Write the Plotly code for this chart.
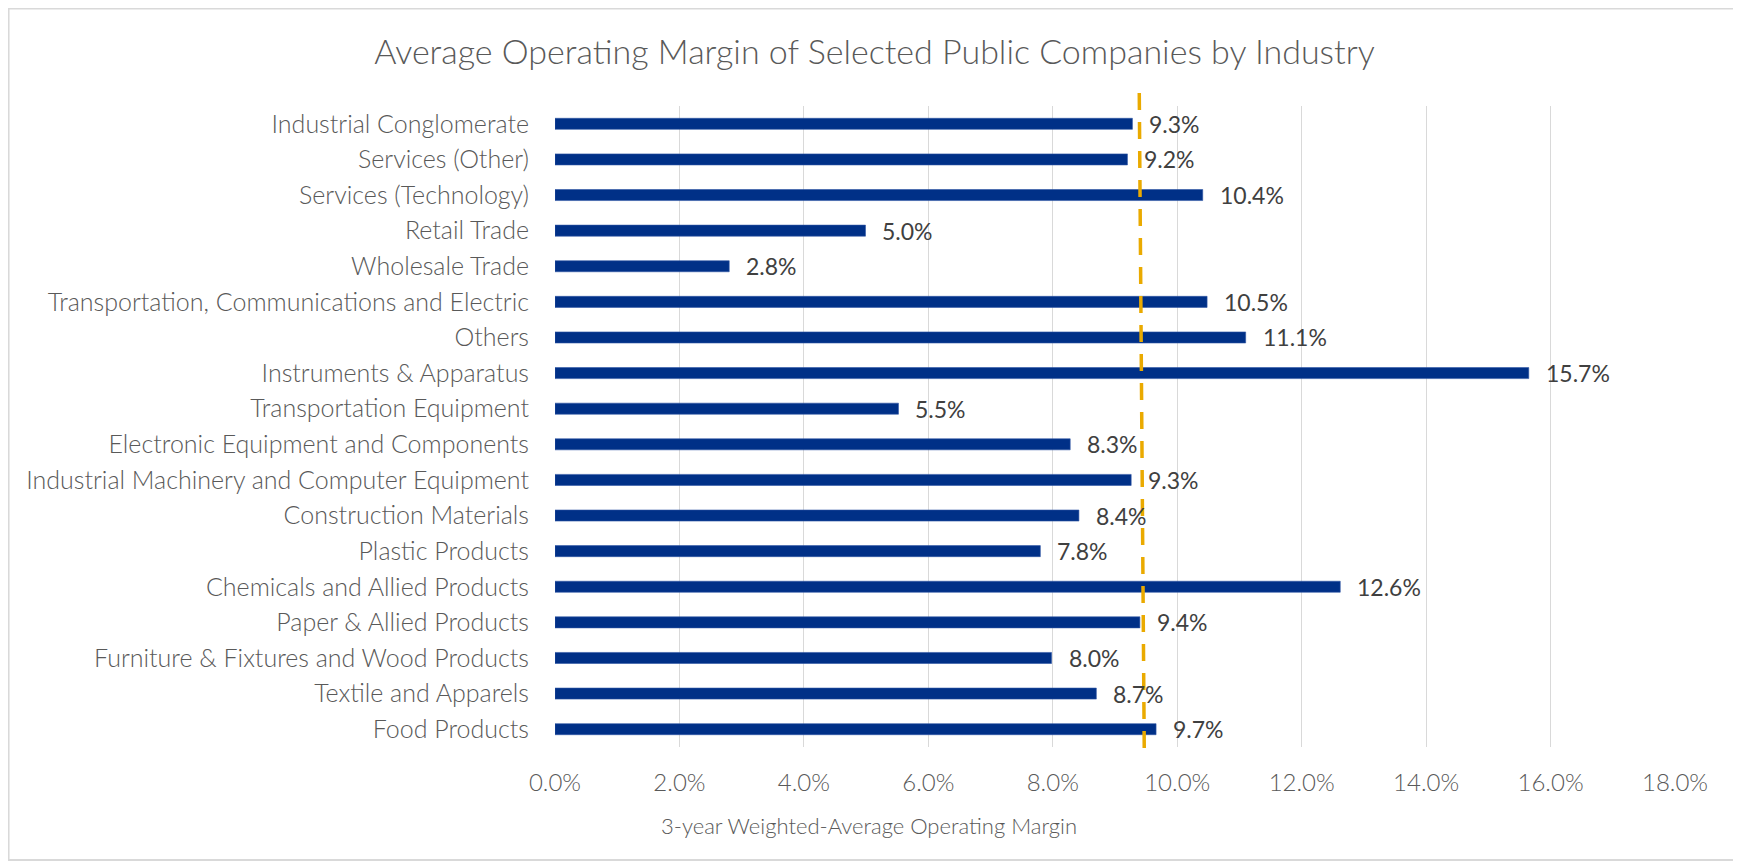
import plotly.graph_objects as go

categories = [
    "Industrial Conglomerate",
    "Services (Other)",
    "Services (Technology)",
    "Retail Trade",
    "Wholesale Trade",
    "Transportation, Communications and Electric",
    "Others",
    "Instruments & Apparatus",
    "Transportation Equipment",
    "Electronic Equipment and Components",
    "Industrial Machinery and Computer Equipment",
    "Construction Materials",
    "Plastic Products",
    "Chemicals and Allied Products",
    "Paper & Allied Products",
    "Furniture & Fixtures and Wood Products",
    "Textile and Apparels",
    "Food Products",
]
margins = [0.0928, 0.0920, 0.1041, 0.0499, 0.0280, 0.1048, 0.1110, 0.1565, 0.0552,
           0.0828, 0.0926, 0.0842, 0.0780, 0.1262, 0.0940, 0.0798, 0.0870, 0.0966]
average_line = [0.0939, 0.0947]   # top, bottom of the dashed average marker
tick_values = [0, 0.02, 0.04, 0.06, 0.08, 0.10, 0.12, 0.14, 0.16, 0.18]

title_text = "Average Operating Margin of Selected Public Companies by Industry"
x_title_text = "3-year Weighted-Average Operating Margin"

FONT = "Lato"
GRAY = "#595959"

fig = go.Figure()
fig.add_trace(go.Bar(
    y=categories,
    x=margins,
    orientation="h",
    marker=dict(color="#003087", line=dict(color="#2f55a4", width=0.6)),
    width=0.31,
    hoverinfo="x+y",
))

for c, v in zip(categories, margins):
    fig.add_annotation(
        x=v, y=c, xref="x", yref="y",
        text=f"{v*100:.1f}%",
        showarrow=False, xanchor="left", yanchor="middle",
        xshift=15,
        font=dict(family=FONT, size=23, color="#404040"),
    )

# average dashed line
fig.add_shape(type="line", xref="x", yref="paper",
              x0=average_line[0], x1=average_line[1], y0=1.0203, y1=-0.0016,
              line=dict(color="#EAAA00", width=3.5, dash="17px,12px"), layer="above")

# chart area border
fig.add_shape(type="rect", xref="paper", yref="paper",
              x0=-0.4879, x1=1.0536, y0=-0.1763, y1=1.1521,
              line=dict(color="#D9D9D9", width=2), layer="below")

fig.add_annotation(
    x=0.2804, y=-0.1217, xref="paper", yref="paper",
    text=x_title_text, showarrow=False, xanchor="center", yanchor="middle",
    font=dict(family=FONT, size=22, color=GRAY, weight=300),
)

fig.update_layout(
    width=1733, height=858,
    paper_bgcolor="white", plot_bgcolor="white",
    margin=dict(l=547, r=66, t=98, b=119),
    showlegend=False,
    title=dict(text=title_text, x=0.5, xanchor="center", y=1 - 44 / 858, yanchor="middle",
               font=dict(family=FONT, size=34, color=GRAY, weight=300)),
    font=dict(family=FONT, color=GRAY),
)
fig.update_xaxes(
    range=[0, 0.18], tickvals=tick_values, tickformat=".1%",
    showgrid=True, gridcolor="#D9D9D9", gridwidth=1.3,
    zeroline=False, showline=False,
    ticks="outside", ticklen=14, tickcolor="rgba(0,0,0,0)",
    tickfont=dict(family=FONT, size=24, color=GRAY, weight=300),
)
fig.update_yaxes(
    autorange="reversed", categoryorder="array", categoryarray=categories,
    showgrid=False, zeroline=False, showline=False,
    ticks="outside", ticklen=20, tickcolor="rgba(0,0,0,0)",
    tickfont=dict(family=FONT, size=25, color=GRAY, weight=300),
)

fig.write_html("out.html")
